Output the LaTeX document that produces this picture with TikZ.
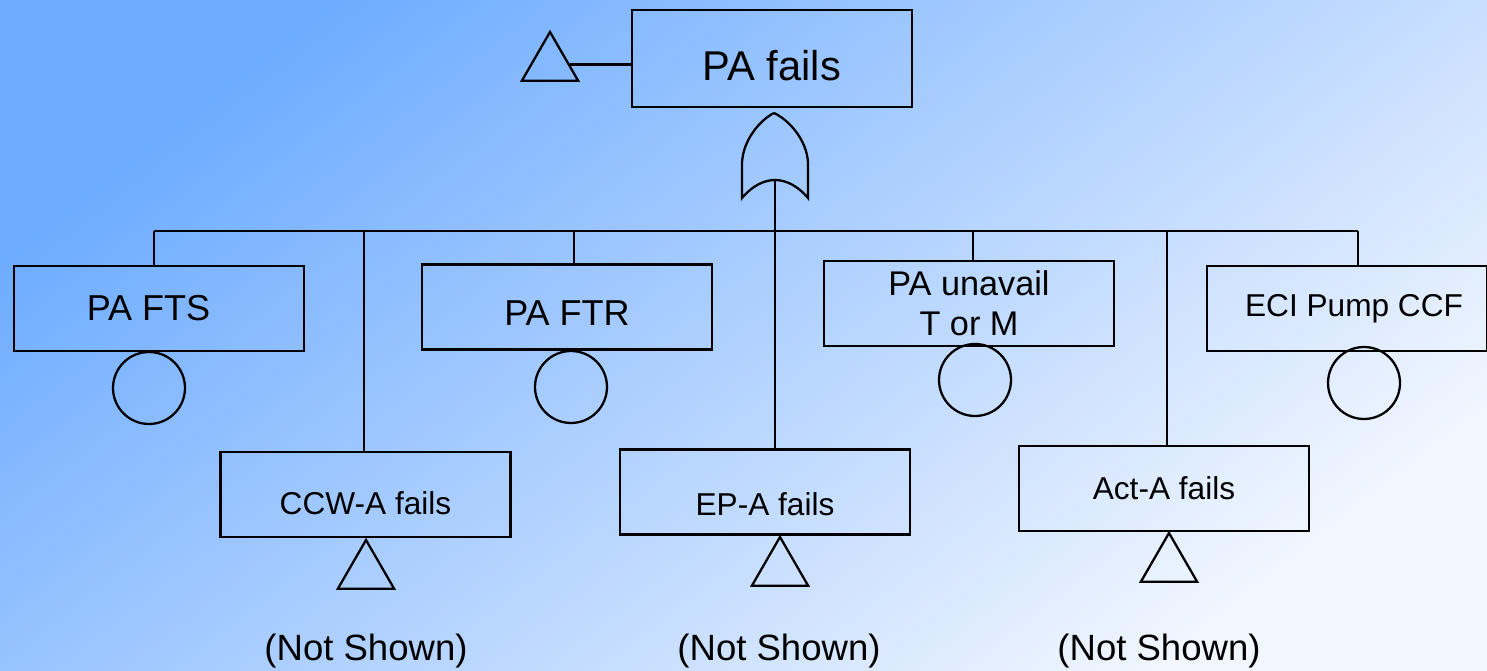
\documentclass[tikz,border=0pt]{standalone}
\usepackage{fontspec}
\setmainfont{Liberation Sans}
\usepackage{tikz}
\usetikzlibrary{positioning, shapes.geometric}

\definecolor{bgdark}{RGB}{110,172,255}
\definecolor{bglight}{RGB}{241,246,255}

\begin{document}
\begin{tikzpicture}[x=0.02cm, y=-0.02cm, line width=1.3pt,
    event/.style = {draw, rectangle, inner sep=2pt, minimum width=5.8cm,
                    minimum height=1.7cm, font=\fontsize{20.5}{23}\selectfont},
    smalltext/.style = {font=\fontsize{18}{21}\selectfont},
    drop/.style = {text height=#1, text depth=0pt},
    basic/.style = {draw, circle, minimum size=1.44cm, inner sep=0pt},
    transfer/.style = {draw, regular polygon, regular polygon sides=3,
                       minimum size=1.3cm, inner sep=0pt},
    notshown/.style = {font=\fontsize{20.8}{24}\selectfont}]

    % Background
    \useasboundingbox (0,0) rectangle (1487,671);
    \shade [top color=bgdark, bottom color=bglight, shading angle=38]
        (0,0) rectangle (1487,671);

    % Top event
    \node [event, minimum width=5.6cm, minimum height=1.94cm,
           font=\fontsize{23.7}{28}\selectfont, drop=25.5pt] (top) at (772,58.5) {PA fails};
    \node [transfer] (toptri) at (550,64.5) {};
    \draw (toptri.east) -- (toptri.east -| top.west);

    % OR gate
    \coordinate (gate) at (775,180);
    \draw (774,113) .. controls (760,120) and (743,140) .. (742,163) -- (742,198)
          .. controls (752,186) and (764,180) .. (gate)
          .. controls (786,180) and (798,186) .. (808,198) -- (808,163)
          .. controls (807,140) and (789,120) .. (774,113);

    % Bar
    \coordinate (b1) at (154,231);
    \coordinate (b2) at (364,231);
    \coordinate (b3) at (574,231);
    \coordinate (b4) at (775,231);
    \coordinate (b5) at (973,231);
    \coordinate (b6) at (1167,231);
    \coordinate (b7) at (1358,231);
    \draw (b1) -- (b7);
    \draw (gate) -- (b4);

    % Basic events
    \node [event] (fts) at (159,308.5) {\hspace{-12pt}PA FTS};
    \node [event, drop=21.1pt] (ftr) at (567,307) {PA FTR};
    \node [event, align=center, font=\fontsize{19.5}{22.7}\selectfont] (unavail) at (969,303.5) {PA unavail\\T or M};
    \node [event, minimum width=5.6cm, smalltext] (eci) at (1347,308.5) {\hspace{8pt}ECI Pump CCF};
    \node [basic] (ftsc) at (149,388) {};
    \node [basic] (ftrc) at (571,387) {};
    \node [basic] (unavailc) at (975,380) {};
    \node [basic] (ecic) at (1364,383) {};
    \draw (b1) -- (b1 |- fts.north);
    \draw (b3) -- (b3 |- ftr.north);
    \draw (b5) -- (b5 |- unavail.north);
    \draw (b7) -- (b7 |- eci.north);

    % Transferred events
    \node [event, smalltext, drop=22.5pt] (ccw) at (365.5,494.5) {CCW-A fails};
    \node [event, smalltext, drop=26.2pt] (ep) at (765,492) {EP-A fails};
    \node [event, smalltext] (act) at (1164,488.5) {Act-A fails};
    \node [transfer] (ccwtri) at (366,572.5) {};
    \node [transfer] (eptri) at (780,569.5) {};
    \node [transfer] (acttri) at (1169,565.5) {};
    \draw (b2) -- (b2 |- ccw.north);
    \draw (b4) -- (b4 |- ep.north);
    \draw (b6) -- (b6 |- act.north);
    \node [notshown] (ccwnote) at (366,651) {(Not Shown)};
    \node [notshown] (epnote) at (779,651) {(Not Shown)};
    \node [notshown] (actnote) at (1159,651) {(Not Shown)};
\end{tikzpicture}
\end{document}
